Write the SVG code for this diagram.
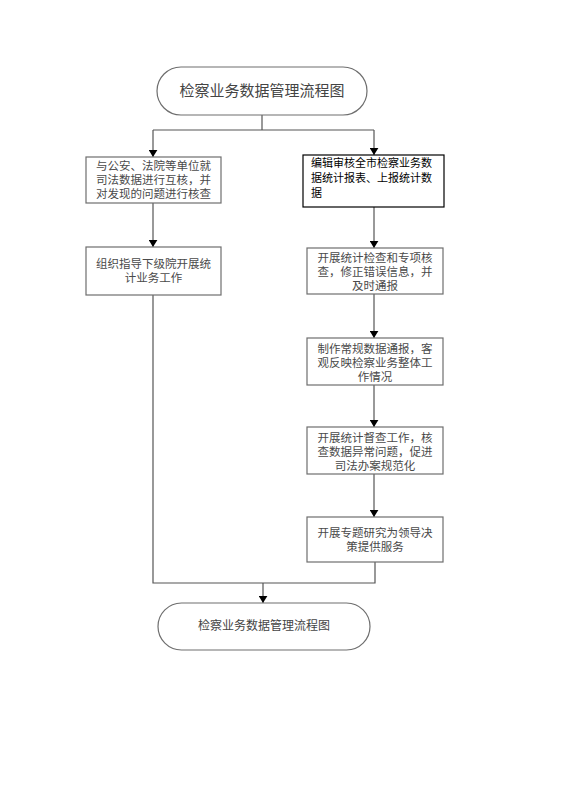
<svg xmlns="http://www.w3.org/2000/svg" width="568" height="812" viewBox="0 0 568 812">
<style>
.bg{fill:#ffffff}
.box{fill:#ffffff;stroke:#6e6e6e;stroke-width:1.2}
.boxk{fill:#ffffff;stroke:#000000;stroke-width:1.2}
.term{fill:#ffffff;stroke:#6e6e6e;stroke-width:1.2}
.t{font-family:"Liberation Serif","Noto Sans CJK SC",serif;font-size:11.5px;fill:#4a4a4a;text-anchor:middle}
.tk{font-family:"Noto Sans CJK SC",sans-serif;font-size:11px;fill:#000000}
.title{font-family:"Liberation Serif","Noto Sans CJK SC",serif;font-size:15px;fill:#444444;text-anchor:middle}
.title2{font-family:"Liberation Serif","Noto Sans CJK SC",serif;font-size:12px;fill:#444444;text-anchor:middle}
.ln{fill:none;stroke:#555555;stroke-width:1.2}
</style>
<defs>
<marker id="ah" viewBox="0 0 8 10" refX="8" refY="5" markerWidth="7" markerHeight="9" markerUnits="userSpaceOnUse" orient="auto">
<path d="M0,0 L8,5 L0,10 Z" fill="#000000"/>
</marker>
</defs>
<rect class="bg" x="0" y="0" width="568" height="812"/>
<g id="connectors">
<path class="ln" d="M262,115 V130"/>
<path class="ln" d="M153,130 H374"/>
<path class="ln" d="M153,130 V157" marker-end="url(#ah)"/>
<path class="ln" d="M374,130 V155" marker-end="url(#ah)"/>
<path class="ln" d="M153,203 V247" marker-end="url(#ah)"/>
<path class="ln" d="M374,207 V248" marker-end="url(#ah)"/>
<path class="ln" d="M374,294 V338" marker-end="url(#ah)"/>
<path class="ln" d="M374,385 V427" marker-end="url(#ah)"/>
<path class="ln" d="M374,474 V517" marker-end="url(#ah)"/>
<path class="ln" d="M153,295 V583 H375 V562"/>
<path class="ln" d="M263,583 V603" marker-end="url(#ah)"/>
</g>
<g id="start">
<rect class="term" x="157" y="67" width="210" height="48" rx="24" ry="24"/>
<text class="title" x="262" y="96">检察业务数据管理流程图</text>
</g>
<g id="left1">
<rect class="box" x="86" y="157" width="135" height="46"/>
<text class="t" x="153.5" y="170">与公安、法院等单位就</text>
<text class="t" x="153.5" y="184">司法数据进行互核，并</text>
<text class="t" x="153.5" y="198">对发现的问题进行核查</text>
</g>
<g id="left2">
<rect class="box" x="86" y="247" width="135" height="48"/>
<text class="t" x="153.5" y="268">组织指导下级院开展统</text>
<text class="t" x="153.5" y="282">计业务工作</text>
</g>
<g id="right1">
<rect class="boxk" x="303" y="155" width="141" height="52"/>
<text class="tk" x="311" y="167">编辑审核全市检察业务数</text>
<text class="tk" x="311" y="182">据统计报表、上报统计数</text>
<text class="tk" x="311" y="197">据</text>
</g>
<g id="right2">
<rect class="box" x="307" y="248" width="136" height="46"/>
<text class="t" x="375" y="262">开展统计检查和专项核</text>
<text class="t" x="375" y="276">查，修正错误信息，并</text>
<text class="t" x="375" y="290">及时通报</text>
</g>
<g id="right3">
<rect class="box" x="307" y="338" width="136" height="47"/>
<text class="t" x="375" y="353">制作常规数据通报，客</text>
<text class="t" x="375" y="367">观反映检察业务整体工</text>
<text class="t" x="375" y="381">作情况</text>
</g>
<g id="right4">
<rect class="box" x="307" y="427" width="136" height="47"/>
<text class="t" x="375" y="442">开展统计督查工作，核</text>
<text class="t" x="375" y="456">查数据异常问题，促进</text>
<text class="t" x="375" y="470">司法办案规范化</text>
</g>
<g id="right5">
<rect class="box" x="307" y="517" width="136" height="45"/>
<text class="t" x="375" y="537">开展专题研究为领导决</text>
<text class="t" x="375" y="551">策提供服务</text>
</g>
<g id="end">
<rect class="term" x="158" y="603" width="212" height="47" rx="23.5" ry="23.5"/>
<text class="title2" x="264" y="630">检察业务数据管理流程图</text>
</g>
</svg>
